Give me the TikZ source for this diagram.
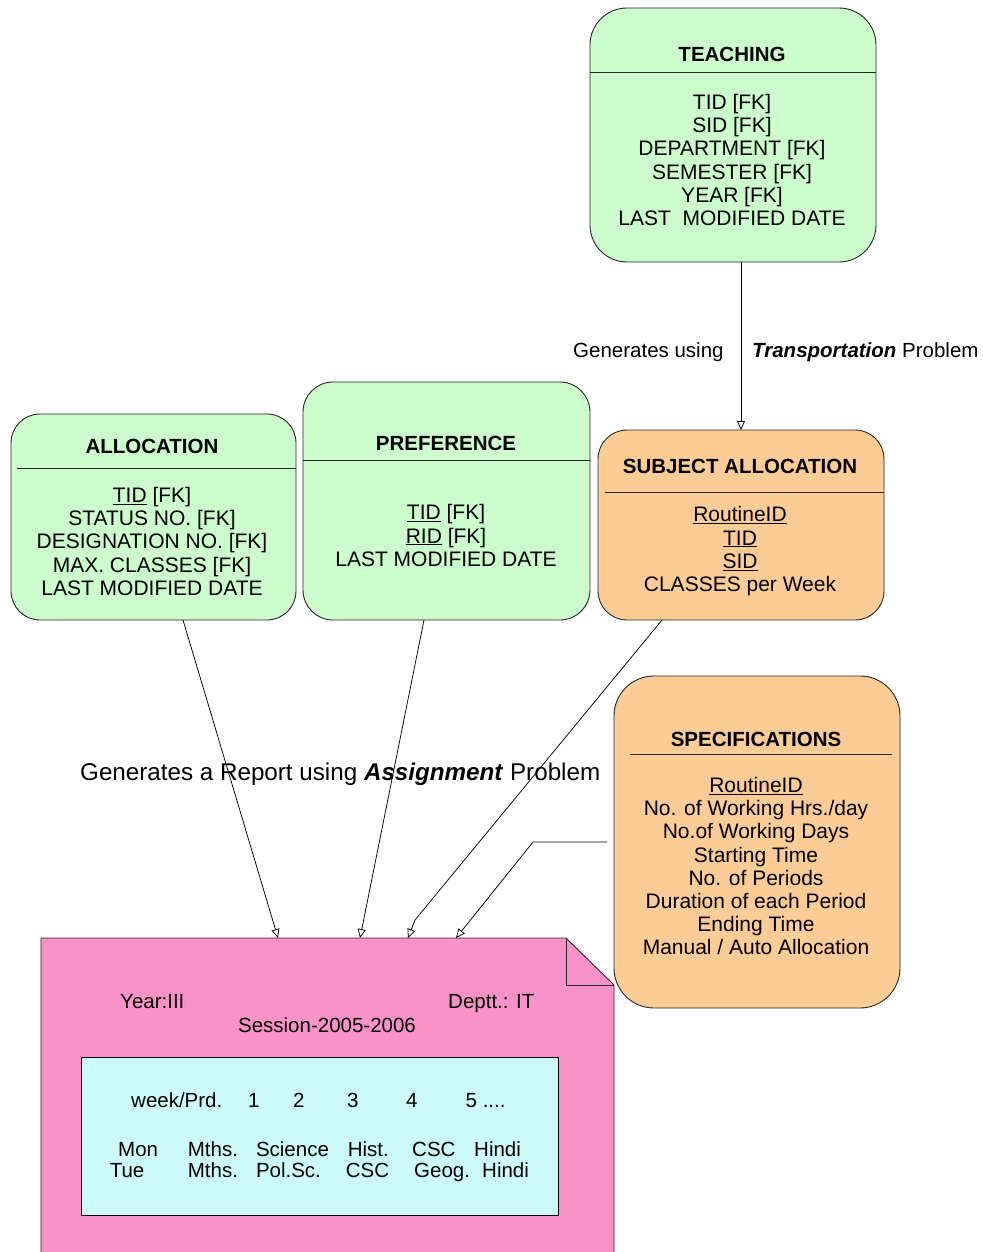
\documentclass[tikz,border=0pt]{standalone}
\usepackage{fontspec}
\setmainfont{Liberation Sans}
\usetikzlibrary{arrows.meta,calc}
\definecolor{entgreen}{RGB}{204,251,204}
\definecolor{entorange}{RGB}{251,204,150}
\definecolor{docpink}{RGB}{249,146,200}
\definecolor{tblcyan}{RGB}{204,250,250}
\begin{document}
\begin{tikzpicture}[x=1pt,y=-1pt,
  entity/.style={draw=black!85, line width=0.9pt, inner sep=0pt, outer sep=0pt},
  head/.style={anchor=base, inner sep=0pt, font=\fontsize{20.5}{23}\selectfont\bfseries},
  body/.style={anchor=north, inner sep=0pt, align=center, font=\fontsize{21}{23.2}\selectfont},
  txt/.style={anchor=base west, inner sep=0pt, font=\fontsize{20.5}{23}\selectfont},
  link/.style={draw=black, line width=0.75pt, -{Triangle[open,length=9pt,width=8pt]}},
  rule/.style={draw=black!85, line width=0.9pt}
]
\useasboundingbox (0,0) rectangle (982,1252);

% ---------- entities ----------
\node[entity, fill=entgreen, rounded corners=37pt, minimum width=286pt, minimum height=254pt] (teach) at (733,135) {};
\draw[rule] (590,72) -- (876,72);
\node[head] (teach-h) at (732,61.5) {TEACHING};
\node[body] (teach-b) at (732,94) {TID [FK]\\SID [FK]\\DEPARTMENT [FK]\\SEMESTER [FK]\\YEAR [FK]\\LAST\ \ MODIFIED DATE};

\node[entity, fill=entgreen, rounded corners=29pt, minimum width=285pt, minimum height=206pt] (alloc) at (153.5,517) {};
\draw[rule] (17,468) -- (296,468);
\node[head] (alloc-h) at (152,453) {ALLOCATION};
\node[body] (alloc-b) at (152,487) {\underline{TID} [FK]\\STATUS NO. [FK]\\DESIGNATION NO. [FK]\\MAX. CLASSES [FK]\\LAST MODIFIED DATE};

\node[entity, fill=entgreen, rounded corners=30pt, minimum width=287pt, minimum height=238pt] (pref) at (446.5,501) {};
\draw[rule] (303,460) -- (590,460);
\node[head] (pref-h) at (446,450) {PREFERENCE};
\node[body] (pref-b) at (446,504.5) {\underline{TID} [FK]\\\underline{RID} [FK]\\LAST MODIFIED DATE};

\node[entity, fill=entorange, rounded corners=29pt, minimum width=286pt, minimum height=190pt] (subj) at (741,525) {};
\draw[rule] (605,492) -- (884,492);
\node[head] (subj-h) at (740,473) {SUBJECT ALLOCATION};
\node[body] (subj-b) at (740,506.5) {\underline{RoutineID}\\\underline{TID}\\\underline{SID}\\CLASSES per Week};

\node[entity, fill=entorange, rounded corners=40pt, minimum width=286pt, minimum height=332pt] (spec) at (757,842) {};
\draw[rule] (630,754) -- (892,754);
\node[head] (spec-h) at (756,746) {SPECIFICATIONS};
\node[body] (spec-b) at (756,777) {\underline{RoutineID}\\No. of Working Hrs./day\\No.of Working Days\\Starting Time\\No. of Periods\\Duration of each Period\\Ending Time\\Manual / Auto Allocation};

% ---------- generated report (document with folded corner) ----------
\path[draw=black!85, line width=0.9pt, fill=docpink] (41,938) -- (566,938) -- (614,985) -- (614,1262) -- (41,1262) -- cycle;
\draw[rule] (566,938) -- (566,985) -- (614,985);
\node[inner sep=0pt, minimum width=573pt, minimum height=324pt] (report) at (327.5,1100) {};
\coordinate (r1) at (278,938);
\coordinate (r2) at (360,938);
\coordinate (r3) at (408,938);
\coordinate (r4) at (456,938);

\node[txt] (year) at (120,1008.5) {Year:III};
\node[txt] (dept) at (448,1008.5) {Deptt.: IT};
\node[txt, anchor=base] (sess) at (327,1032.5) {Session-2005-2006};

\node[draw=black, line width=0.9pt, fill=tblcyan, minimum width=477pt, minimum height=158pt, inner sep=0pt] (tbl) at (319.5,1136) {};
\node[txt] (c00) at (131,1107.5) {week/Prd.};
\node[txt] (c01) at (248,1107.5) {1};
\node[txt] (c02) at (293,1107.5) {2};
\node[txt] (c03) at (347,1107.5) {3};
\node[txt] (c04) at (406,1107.5) {4};
\node[txt] (c05) at (465.5,1107.5) {5 ....};
\node[txt] (c10) at (118,1156.5) {Mon};
\node[txt] (c11) at (187.7,1156.5) {Mths.};
\node[txt] (c12) at (255.8,1156.5) {Science};
\node[txt] (c13) at (347.6,1156.5) {Hist.};
\node[txt] (c14) at (412,1156.5) {CSC};
\node[txt] (c15) at (474,1156.5) {Hindi};
\node[txt] (c20) at (109.6,1177.5) {Tue};
\node[txt] (c21) at (187.7,1177.5) {Mths.};
\node[txt] (c22) at (255.8,1177.5) {Pol.Sc.};
\node[txt] (c23) at (345.7,1177.5) {CSC};
\node[txt] (c24) at (414,1177.5) {Geog.};
\node[txt] (c25) at (482,1177.5) {Hindi};

% ---------- connectors ----------
\draw[link] (teach.south -| subj.north) -- (subj.north);
\draw[link] ([xshift=29.5pt]alloc.south) -- (r1);
\draw[link] ([xshift=-22.5pt]pref.south) -- (r2);
\draw[link] ([xshift=-79pt]subj.south) -- (415,920) -- (r3);
\draw[link] ([xshift=-7pt]spec.west) -- ++(-74,0) -- (r4);

% ---------- connector labels ----------
\node[txt] (lbl-trans1) at (573,357.5) {Generates using};
\node[txt] (lbl-trans2) at (752,357.5) {\textbf{\textit{Transportation}} Problem};
\node[txt, font=\fontsize{24.2}{28}\selectfont] (lbl-assign) at (80,780.5) {Generates a Report using \textbf{\textit{Assignment}} Problem};
\end{tikzpicture}
\end{document}
